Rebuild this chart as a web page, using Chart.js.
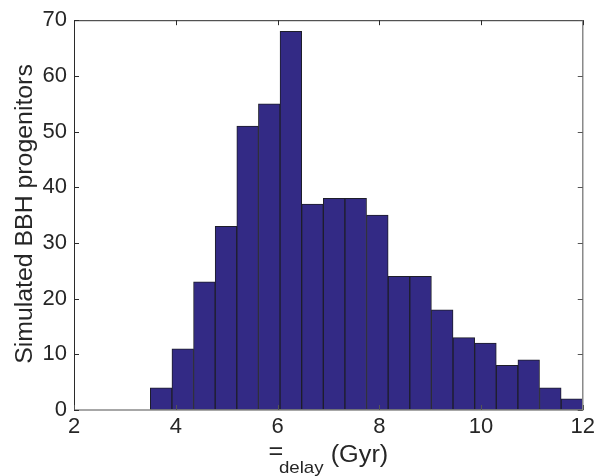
<!DOCTYPE html>
<html>
<head>
<meta charset="utf-8">
<script src="https://cdn.jsdelivr.net/npm/chart.js@4/dist/chart.umd.min.js"></script>
<style>
html,body{margin:0;padding:0;background:#fff;}
#wrap{width:599px;height:476px;}
</style>
</head>
<body>
<div id="wrap"><canvas id="c" width="599" height="476"></canvas></div>
<script>
// Histogram bins (left edges, Gyr) and counts
const binLeft = [3.5, 3.925, 4.35, 4.775, 5.2, 5.625, 6.05, 6.475, 6.9, 7.325,
                 7.75, 8.175, 8.6, 9.025, 9.45, 9.875, 10.3, 10.725, 11.15, 11.575];
const binWidth = 0.425;
const counts = [4, 11, 23, 33, 51, 55, 68, 37, 38, 38,
                35, 24, 24, 18, 13, 12, 8, 9, 4, 2];
const xTicks = [2, 4, 6, 8, 10, 12];
const yTicks = [0, 10, 20, 30, 40, 50, 60, 70];
const yTitle = 'Simulated BBH progenitors';
const xTitleSym = '=';
const xTitleSub = 'delay';
const xTitleUnit = '(Gyr)';

const barData = binLeft.map((l, i) => ({x: l + binWidth / 2, y: counts[i]}));
const TXT = '#262626';
const FONT = '"Liberation Sans", Arial, sans-serif';

const decor = {
  id: 'decor',
  afterDatasetsDraw(chart) {
    const ctx = chart.ctx, a = chart.chartArea;
    const xs = chart.scales.x, ys = chart.scales.y;
    ctx.save();
    // box
    ctx.lineWidth = 1;
    ctx.strokeStyle = '#2b2b2b';
    ctx.beginPath();
    ctx.moveTo(a.left + 0.5, a.bottom); ctx.lineTo(a.left + 0.5, a.top + 0.5); ctx.lineTo(a.right, a.top + 0.5);
    ctx.stroke();
    ctx.strokeStyle = '#8a8a8a';
    ctx.lineWidth = 1.5;
    ctx.beginPath();
    ctx.moveTo(a.left, a.bottom); ctx.lineTo(a.right, a.bottom); ctx.lineTo(a.right, a.top);
    ctx.stroke();
    // inward ticks
    const tl = 5;
    ctx.lineWidth = 1;
    xTicks.forEach(v => {
      const px = Math.round(xs.getPixelForValue(v)) + 0.5;
      ctx.strokeStyle = '#2b2b2b';
      ctx.beginPath(); ctx.moveTo(px, a.top); ctx.lineTo(px, a.top + tl); ctx.stroke();
      ctx.strokeStyle = '#555';
      ctx.beginPath(); ctx.moveTo(px, a.bottom); ctx.lineTo(px, a.bottom - tl); ctx.stroke();
    });
    yTicks.forEach(v => {
      const py = Math.round(ys.getPixelForValue(v)) + 0.5;
      ctx.strokeStyle = '#2b2b2b';
      ctx.beginPath(); ctx.moveTo(a.left, py); ctx.lineTo(a.left + tl, py); ctx.stroke();
      ctx.strokeStyle = '#555';
      ctx.beginPath(); ctx.moveTo(a.right, py); ctx.lineTo(a.right - tl, py); ctx.stroke();
    });
    // y title
    ctx.fillStyle = TXT;
    ctx.save();
    ctx.translate(26, 214);
    ctx.rotate(-Math.PI / 2);
    ctx.scale(1.08, 1);
    ctx.font = '23px ' + FONT;
    ctx.textAlign = 'center';
    ctx.textBaseline = 'middle';
    ctx.fillText(yTitle, 0, 0);
    ctx.restore();
    // x title
    ctx.save();
    ctx.textBaseline = 'alphabetic';
    ctx.textAlign = 'left';
    const sx = 1.1;
    const big = '23px ' + FONT, small = '17px ' + FONT;
    ctx.font = big; const w1 = ctx.measureText(xTitleSym).width;
    ctx.font = small; const w2 = ctx.measureText(xTitleSub).width;
    ctx.font = big; const sp = ctx.measureText(' ').width; const w3 = ctx.measureText(xTitleUnit).width;
    const total = (w1 - 4 + w2 + sp + w3) * sx;
    ctx.translate((a.left + a.right) / 2 - total / 2, 0);
    ctx.scale(sx, 1);
    let x0 = 0;
    ctx.font = big; ctx.fillText(xTitleSym, x0, 459);
    x0 += w1 - 4;
    ctx.font = small; ctx.fillText(xTitleSub, x0, 473);
    x0 += w2 + sp;
    ctx.font = big; ctx.fillText(xTitleUnit, x0, 462);
    ctx.restore();
    ctx.restore();
  }
};

new Chart(document.getElementById('c'), {
  type: 'bar',
  data: {
    datasets: [{
      data: barData,
      backgroundColor: '#332a85',
      borderColor: '#1e1e2a',
      borderWidth: 1,
      borderSkipped: false,
      barPercentage: 1,
      categoryPercentage: 1
    }]
  },
  options: {
    responsive: false,
    animation: false,
    devicePixelRatio: 1,
    layout: {padding: {left: 0, right: 13, top: 18, bottom: 0}},
    plugins: {legend: {display: false}, tooltip: {enabled: false}},
    scales: {
      x: {
        type: 'linear', min: 2, max: 12, offset: false,
        afterBuildTicks: s => { s.ticks = xTicks.map(v => ({value: v})); },
        afterFit: s => { s.height = 66; },
        grid: {display: false, drawTicks: false},
        border: {display: false},
        ticks: {color: TXT, font: {family: FONT, size: 22}, padding: 4, maxRotation: 0, autoSkip: false}
      },
      y: {
        min: 0, max: 70,
        afterBuildTicks: s => { s.ticks = yTicks.map(v => ({value: v})); },
        afterFit: s => { s.width = 74; },
        grid: {display: false, drawTicks: false},
        border: {display: false},
        ticks: {color: TXT, font: {family: FONT, size: 22}, padding: 7}
      }
    }
  },
  plugins: [decor]
});
</script>
</body>
</html>
